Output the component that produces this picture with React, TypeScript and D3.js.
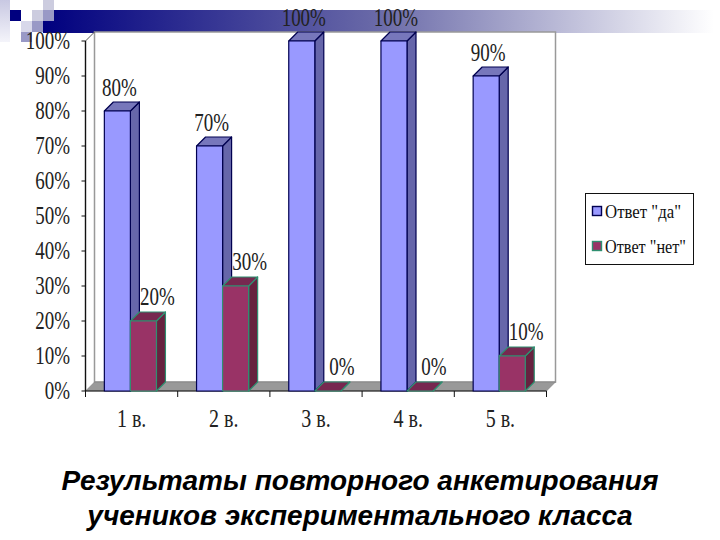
import React from 'react';
import * as d3 from 'd3';

const categories = ['1 в.', '2 в.', '3 в.', '4 в.', '5 в.'];
const seriesNames = ['Ответ "да"', 'Ответ "нет"'];
const yesValues = [80, 70, 100, 100, 90];
const noValues = [20, 30, 0, 0, 10];
const yTicks = [0, 10, 20, 30, 40, 50, 60, 70, 80, 90, 100];
const titleLines = ['Результаты повторного анкетирования', 'учеников экспериментального класса'];

const depthX = 9;
const depthY = 9;
const serif = '"Liberation Serif", serif';

const colors = [
  { front: '#9999ff', side: '#6666aa', top: '#7777bb', stroke: '#000050' },
  { front: '#993366', side: '#66223f', top: '#772850', stroke: '#2f8f70' },
];

// squeezed serif text, the picture has it stretched tall
const Tall = ({ x, y, size = 25, sx = 0.76, anchor = 'middle', children }: any) => (
  <text
    transform={`translate(${x},${y}) scale(${sx},1)`}
    textAnchor={anchor}
    fontFamily={serif}
    fontSize={size}
    fill="#222"
  >
    {children}
  </text>
);

const App = () => {
  const y = d3.scaleLinear().domain([0, 100]).range([391, 41]);
  const x0 = d3.scaleBand<string>().domain(categories).range([85.5, 546.5]);
  const x1 = d3
    .scaleBand<number>()
    .domain([0, 1])
    .range([0, x0.bandwidth()])
    .paddingInner(0)
    .paddingOuter(0.77)
    .align(0.47);

  const series = [yesValues, noValues];
  const [left, right] = x0.range();
  const base = y(0);
  const top = y(100);

  const poly = (pts: number[][]) => pts.map(p => p.join(',')).join(' ');

  return (
    <svg width={720} height={540} style={{ position: 'absolute', left: 0, top: 0, background: '#fff' }}>
      <defs>
        <linearGradient id="banner" x1="0" x2="1" y1="0" y2="0">
          <stop offset="0" stopColor="#00007f" />
          <stop offset="0.5" stopColor="#6a6aa8" />
          <stop offset="1" stopColor="#ffffff" />
        </linearGradient>
        <linearGradient id="fadeV" x1="0" x2="0" y1="0" y2="1">
          <stop offset="0" stopColor="#c8c8e2" />
          <stop offset="1" stopColor="#f4f4fa" />
        </linearGradient>
      </defs>

      {/* header decoration */}
      <rect x={43} y={10} width={671} height={23} fill="url(#banner)" />
      <rect x={0} y={0} width={10} height={42} fill="url(#fadeV)" />
      <rect x={10} y={10} width={11} height={11} fill="#00007f" />
      <rect x={43} y={0} width={11} height={10} fill="#ccccdf" />
      <rect x={32} y={10} width={11} height={11} fill="#ccccdf" />
      <rect x={43} y={10} width={11} height={11} fill="#9999c6" />
      <rect x={21} y={21} width={11} height={11} fill="#d8d8ea" />
      <rect x={32} y={21} width={11} height={11} fill="#9999c6" />
      <rect x={21} y={32} width={11} height={10} fill="#9999c6" />

      {/* walls and floor */}
      <rect x={left + depthX} y={top - depthY} width={right - left} height={base - top} fill="#fff" stroke="#999" strokeWidth={1.5} />
      <polygon
        points={poly([[left, base], [left + depthX, base - depthY], [right + depthX, base - depthY], [right, base]])}
        fill="#999"
        stroke="#777"
        strokeWidth={0.5}
      />

      {/* axes */}
      <line x1={left} x2={right} y1={base} y2={base} stroke="#111" strokeWidth={1.2} />
      <line x1={left} x2={left} y1={top} y2={base} stroke="#111" strokeWidth={1.4} />
      <line x1={left} x2={left + depthX} y1={top} y2={top - depthY} stroke="#555" />
      {yTicks.map(t => (
        <g key={t}>
          <line x1={left - 4} x2={left} y1={y(t)} y2={y(t)} stroke="#111" />
          <Tall x={70} y={y(t) + 8} anchor="end">{t}%</Tall>
        </g>
      ))}
      {[...categories.map(c => x0(c) as number), right].map((t, i) => (
        <line key={i} x1={t} x2={t} y1={base} y2={base + 6} stroke="#111" />
      ))}
      {categories.map(c => (
        <Tall key={c} x={(x0(c) as number) + x0.bandwidth() / 2} y={427} size={25} sx={0.8}>{c}</Tall>
      ))}

      {/* bars */}
      {categories.map((c, i) =>
        series.map((vals, s) => {
          const v = vals[i];
          const bx = (x0(c) as number) + (x1(s) as number);
          const w = x1.bandwidth();
          const by = y(v);
          const col = colors[s];
          return (
            <g key={`${c}-${s}`} stroke={col.stroke} strokeWidth={1.2} strokeLinejoin="round">
              <polygon points={poly([[bx + w, by], [bx + w + depthX, by - depthY], [bx + w + depthX, base - depthY], [bx + w, base]])} fill={col.side} />
              <polygon points={poly([[bx, by], [bx + depthX, by - depthY], [bx + w + depthX, by - depthY], [bx + w, by]])} fill={col.top} />
              {v > 0 && <rect x={bx} y={by} width={w} height={base - by} fill={col.front} />}
            </g>
          );
        })
      )}

      {/* value labels */}
      {categories.map((c, i) =>
        series.map((vals, s) => {
          const bx = (x0(c) as number) + (x1(s) as number) + x1.bandwidth() / 2;
          return (
            <Tall key={`${c}-${s}-l`} x={bx + (s === 0 ? 2 : 14)} y={y(vals[i]) - (s === 0 ? 15 : 16)}>{vals[i]}%</Tall>
          );
        })
      )}

      {/* legend */}
      <rect x={585.5} y={193.5} width={108} height={71} fill="#fff" stroke="#111" />
      {seriesNames.map((name, s) => (
        <g key={name} transform={`translate(0,${s * 35})`}>
          <rect x={592.5} y={206.5} width={9} height={9} fill={colors[s].front} stroke={colors[s].stroke} strokeWidth={1.4} />
          <text x={605} y={218} fontFamily={serif} fontSize={19} fill="#111" textLength={s === 0 ? 76 : 81} lengthAdjust="spacingAndGlyphs">
            {name}
          </text>
        </g>
      ))}

      {/* title */}
      {titleLines.map((line, i) => (
        <text
          key={line}
          x={360}
          y={490 + i * 35}
          textAnchor="middle"
          fontFamily='"Liberation Sans", sans-serif'
          fontWeight="bold"
          fontStyle="italic"
          fontSize={28}
          fill="#000"
        >
          {line}
        </text>
      ))}
    </svg>
  );
};

export default App;
